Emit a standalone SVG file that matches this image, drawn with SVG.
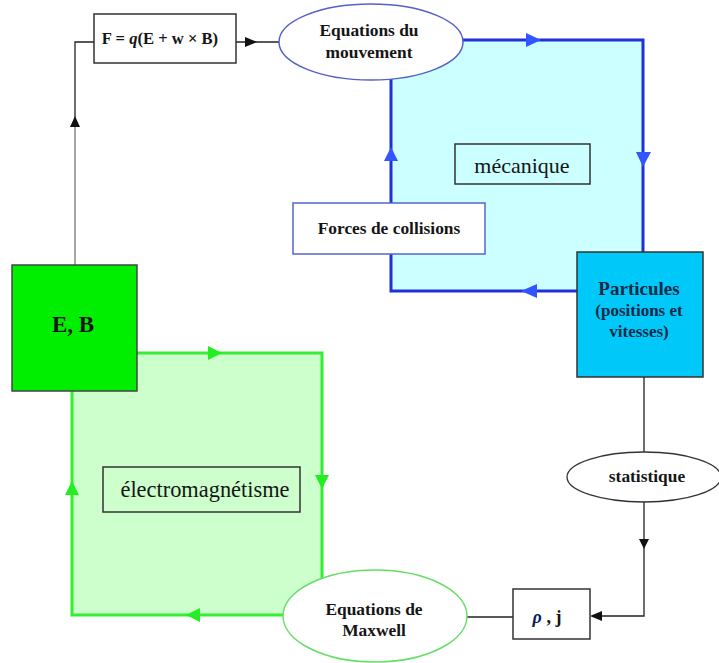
<svg xmlns="http://www.w3.org/2000/svg" width="719" height="663" viewBox="0 0 719 663">
<style>
text{font-family:"Liberation Serif","Tinos","DejaVu Serif",serif;fill:#151515;text-anchor:middle}
.b{font-weight:bold}
.lbl{font-weight:bold;font-size:17.4px}
.blue{fill:none;stroke:#2230d8;stroke-width:3}
.green{fill:none;stroke:#33ee33;stroke-width:3}
.ba{fill:#3355ff}
.ga{fill:#22ee22}
.thin{fill:none;stroke:#222;stroke-width:1.3}
.gray{fill:none;stroke:#888;stroke-width:1.5}
.box{fill:#fff;stroke:#333;stroke-width:1.5}
</style>
<rect width="719" height="663" fill="#fff"/>
<g id="loop-fill">
<rect x="391" y="40" width="252" height="251" fill="#ccffff"/>
<rect x="72" y="353" width="250" height="262" fill="#ccffcc"/>
</g>
<g id="connectors">
<path class="blue" d="M463,40 H643 V252 M577,291 H391 V79"/>
<path class="green" d="M137,353 H322 V578 M283,615 H72 V391"/>
<polygon class="ba" points="526,33 526,47 541,40"/>
<polygon class="ba" points="636,152 651,152 643,167"/>
<polygon class="ba" points="521,291 537,284 537,298"/>
<polygon class="ba" points="384,161 398,161 391,147"/>
<polygon class="ga" points="208,346 208,360 222,353"/>
<polygon class="ga" points="315,475 329,475 322,489"/>
<polygon class="ga" points="186,615 200,608 200,622"/>
<polygon class="ga" points="65,495 79,495 72,481"/>
<path class="gray" d="M75,265 V120"/>
<path class="thin" d="M75,122 V42 H94"/>
<polygon fill="#111" points="70,127 80,127 75,116"/>
<path class="thin" d="M236,42 H279"/>
<polygon fill="#111" points="245,37 245,47 257,42"/>
<path class="thin" d="M467,617 H513"/>
<path class="thin" d="M644,377 V453 M644,502 V616 H592"/>
<polygon fill="#111" points="639,539 649,539 644,549"/>
<polygon fill="#111" points="590,616 602,611 602,621"/>
</g>
<g id="force">
<rect class="box" x="94" y="14" width="142" height="49"/>
<text class="b" x="160" y="44" font-size="16.6">F = <tspan font-style="italic">q</tspan>(E + w × B)</text>
</g>
<g id="eq-mouvement">
<ellipse cx="371" cy="42" rx="92" ry="38" fill="#fff" stroke="#5560c8" stroke-width="1.5"/>
<text class="lbl" x="369" y="36">Equations du</text>
<text class="lbl" x="369" y="58">mouvement</text>
</g>
<g id="mecanique">
<rect class="box" x="455" y="144" width="135" height="40" style="fill:#ccffff"/>
<text x="522" y="173" font-size="22">mécanique</text>
</g>
<g id="collisions">
<rect x="293" y="203" width="192" height="51" fill="#fff" stroke="#5566cc" stroke-width="1.5"/>
<text class="lbl" x="389" y="234">Forces de collisions</text>
</g>
<g id="particules">
<rect x="577" y="252" width="126" height="125" fill="#00c8f8" stroke="#333" stroke-width="1.5"/>
<text class="b" x="639" y="295" font-size="19" style="fill:#0e2a48">Particules</text>
<text class="b" x="639" y="316" font-size="17" style="fill:#0e2a48">(positions et</text>
<text class="b" x="639" y="337" font-size="17" style="fill:#0e2a48">vitesses)</text>
</g>
<g id="eb">
<rect x="12" y="265" width="125" height="126" fill="#00ee00" stroke="#444" stroke-width="1.5"/>
<text class="b" x="73" y="332" font-size="23">E, B</text>
</g>
<g id="electro">
<rect class="box" x="103" y="467" width="197" height="45" style="fill:#ccffcc"/>
<text x="205" y="497" font-size="22.4">électromagnétisme</text>
</g>
<g id="statistique">
<ellipse cx="644" cy="477" rx="77" ry="25" fill="#fff" stroke="#333" stroke-width="1.3"/>
<text class="lbl" x="647" y="482">statistique</text>
</g>
<g id="maxwell">
<ellipse cx="375" cy="616" rx="92" ry="46" fill="#fff" stroke="#66dd66" stroke-width="1.5"/>
<text class="lbl" x="374" y="615">Equations de</text>
<text class="lbl" x="374" y="636">Maxwell</text>
</g>
<g id="rhoj">
<rect class="box" x="513" y="589" width="77" height="50"/>
<text class="b" x="547" y="623" font-size="18"><tspan font-style="italic" style="fill:#0a1e5a">ρ</tspan>  , j</text>
</g>
</svg>
